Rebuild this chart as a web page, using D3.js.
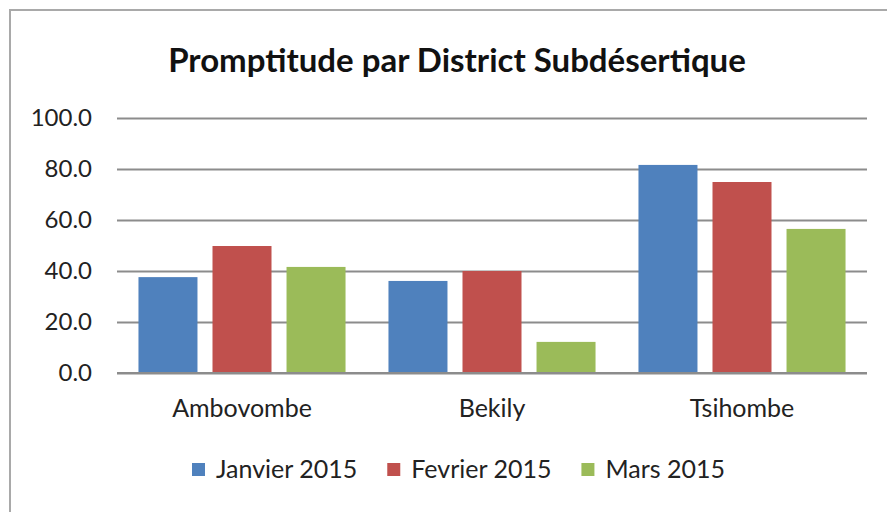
<!DOCTYPE html>
<html>
<head>
<meta charset="utf-8">
<script src="https://cdn.jsdelivr.net/npm/d3@7"></script>
<style>
  body { margin: 0; background: #fff; }
  svg { display: block; font-family: Lato, "Open Sans", sans-serif; }
</style>
</head>
<body>
<svg width="887" height="512"></svg>
<script>
var districts = ["Ambovombe", "Bekily", "Tsihombe"];
var months = ["Janvier 2015", "Fevrier 2015", "Mars 2015"];
var janvier = [37.6, 36.1, 81.6];
var fevrier = [49.8, 40.0, 74.9];
var mars = [41.6, 12.2, 56.5];
var yTicks = [0, 20, 40, 60, 80, 100];
var colors = ["#4f81bd", "#c0504d", "#9bbb59"];

var series = [janvier, fevrier, mars];

var svg = d3.select("svg"),
    width = +svg.attr("width"),
    height = +svg.attr("height");

// chart frame (right and bottom edges fall outside the picture)
svg.append("rect")
    .attr("x", 10)
    .attr("y", 10)
    .attr("width", 900)
    .attr("height", 520)
    .attr("fill", "#fff")
    .attr("stroke", "#a9a9a9")
    .attr("stroke-width", 2);

svg.append("text")
    .attr("x", 457)
    .attr("y", 72)
    .attr("text-anchor", "middle")
    .attr("font-size", 33)
    .attr("font-weight", "bold")
    .attr("fill", "#111")
    .text("Promptitude par District Subdésertique");

var x = d3.scaleBand()
    .domain(districts)
    .range([117, 867]);

var xInner = d3.scaleBand()
    .domain(d3.range(months.length))
    .range([0, x.bandwidth()])
    .paddingInner(0.203)
    .paddingOuter(0.29);

var y = d3.scaleLinear()
    .domain([0, 100])
    .range([373, 118]);

// gridlines + y labels
var yAxis = svg.append("g")
    .attr("transform", "translate(117,0)")
    .call(d3.axisLeft(y).tickValues(yTicks).tickSize(-750).tickPadding(25)
      .tickFormat(d3.format(".1f")));
yAxis.select(".domain").remove();
yAxis.selectAll(".tick line")
    .attr("stroke", "#8c8c8c")
    .attr("stroke-width", 2);
yAxis.selectAll(".tick text")
    .attr("font-size", 24)
    .attr("font-family", "Lato")
    .attr("fill", "#222");

// bars
var groups = svg.append("g")
  .selectAll("g")
  .data(series)
  .enter().append("g")
    .attr("fill", function(d, i) { return colors[i]; });

groups.selectAll("rect")
  .data(function(d, i) { return d.map(function(v, j) { return {s: i, k: j, v: v}; }); })
  .enter().append("rect")
    .attr("x", function(d) { return x(districts[d.k]) + xInner(d.s); })
    .attr("y", function(d) { return y(d.v); })
    .attr("width", xInner.bandwidth())
    .attr("height", function(d) { return y(0) - y(d.v); });

// baseline
svg.append("line")
    .attr("x1", 117).attr("x2", 867)
    .attr("y1", y(0)).attr("y2", y(0))
    .attr("stroke", "#8c8c8c")
    .attr("stroke-width", 2);

// category labels
var xAxis = svg.append("g")
    .attr("transform", "translate(0," + y(0) + ")")
    .call(d3.axisBottom(x).tickSize(0).tickPadding(26));
xAxis.select(".domain").remove();
xAxis.selectAll("text")
    .attr("font-size", 25)
    .attr("font-family", "Lato")
    .attr("fill", "#222");

// legend
var lx = 192;
months.forEach(function(m, i) {
  svg.append("rect")
      .attr("x", lx)
      .attr("y", 463)
      .attr("width", 13)
      .attr("height", 13)
      .attr("fill", colors[i]);
  var t = svg.append("text")
      .attr("x", lx + 24)
      .attr("y", 478)
      .attr("font-size", 25)
      .attr("fill", "#222")
      .text(m);
  lx = lx + 24 + t.node().getComputedTextLength() + 30;
});
</script>
</body>
</html>
